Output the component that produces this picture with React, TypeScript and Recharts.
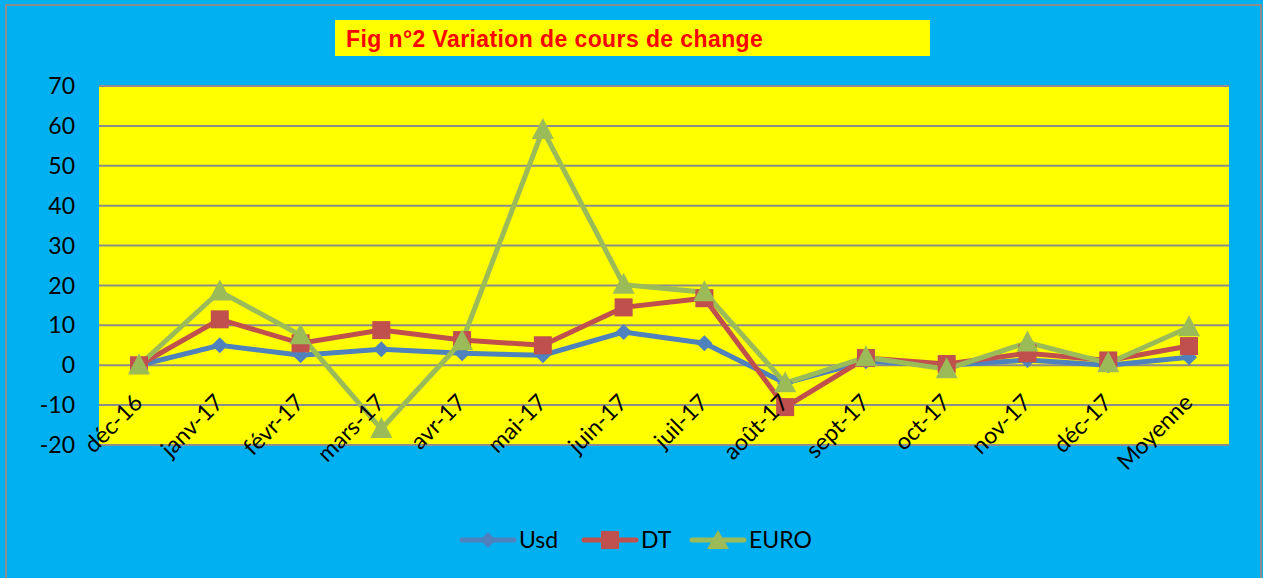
import React from 'react';
import { LineChart, Line, XAxis, YAxis, CartesianGrid, Legend } from 'recharts';

const categories = ['déc-16', 'janv-17', 'févr-17', 'mars-17', 'avr-17', 'mai-17', 'juin-17', 'juil-17', 'août-17', 'sept-17', 'oct-17', 'nov-17', 'déc-17', 'Moyenne'];
const usd = [0, 5, 2.5, 4, 3, 2.5, 8.3, 5.5, -4.5, 1, 0, 1.3, 0, 2];
const dt = [0, 11.5, 5.5, 8.8, 6.3, 5, 14.5, 16.8, -10.5, 1.8, 0.3, 3, 1.2, 4.8];
const euro = [0, 18.5, 7.5, -16, 6, 59, 20.2, 18.3, -4.5, 2, -1, 5.7, 0.5, 9.5];
const yTicks = [-20, -10, 0, 10, 20, 30, 40, 50, 60, 70];

const data = categories.map((c, i) => ({ name: c, Usd: usd[i], DT: dt[i], EURO: euro[i] }));

const FONT = 'Lato, "Open Sans", sans-serif';
const BLUE = '#4F81BD';
const RED = '#C0504D';
const GREEN = '#9BBB59';

const Diamond = (props: any) => {
  const { cx, cy, fill } = props;
  if (cx == null || cy == null) return null;
  const r = 8;
  return <polygon points={`${cx},${cy - r} ${cx + r},${cy} ${cx},${cy + r} ${cx - r},${cy}`} fill={fill} />;
};
const Square = (props: any) => {
  const { cx, cy, fill } = props;
  if (cx == null || cy == null) return null;
  const r = 9;
  return <rect x={cx - r} y={cy - r} width={2 * r} height={2 * r} fill={fill} />;
};
const Triangle = (props: any) => {
  const { cx, cy, fill } = props;
  if (cx == null || cy == null) return null;
  const r = 10;
  return <polygon points={`${cx},${cy - r - 2} ${cx + r + 1},${cy + r - 1} ${cx - r - 1},${cy + r - 1}`} fill={fill} />;
};

const XTick = (props: any) => {
  const { x, y, payload } = props;
  const ax = x + 5;
  const ay = y - 49;
  return (
    <text x={ax} y={ay} transform={`rotate(-45, ${ax}, ${ay})`} textAnchor="end" fontSize={23} fontFamily={FONT} fill="#000">
      {payload.value}
    </text>
  );
};

const LegendContent = () => {
  const items = [
    { label: 'Usd', color: BLUE, shape: 'diamond' },
    { label: 'DT', color: RED, shape: 'square' },
    { label: 'EURO', color: GREEN, shape: 'triangle' },
  ];
  const starts = [460, 582, 690];
  return (
    <svg width={1263} height={40} style={{ display: 'block' }}>
      {items.map((it, i) => {
        const x0 = starts[i];
        const cy = 20;
        const mx = x0 + 28;
        return (
          <g key={it.label}>
            <line x1={x0 + 2} y1={cy} x2={x0 + 54} y2={cy} stroke={it.color} strokeWidth={5} strokeLinecap="round" />
            {it.shape === 'diamond' && <polygon points={`${mx},${cy - 8} ${mx + 8},${cy} ${mx},${cy + 8} ${mx - 8},${cy}`} fill={it.color} />}
            {it.shape === 'square' && <rect x={mx - 9} y={cy - 9} width={18} height={18} fill={it.color} />}
            {it.shape === 'triangle' && <polygon points={`${mx},${cy - 10} ${mx + 11},${cy + 9} ${mx - 11},${cy + 9}`} fill={it.color} />}
            <text x={x0 + 59} y={cy + 8} fontSize={23} fontFamily={FONT} fill="#000">{it.label}</text>
          </g>
        );
      })}
    </svg>
  );
};

export default function App() {
  return (
    <div style={{ position: 'absolute', left: 0, top: 0, width: 1263, height: 578, background: '#00B0F0', overflow: 'hidden' }}>
      <div style={{ position: 'absolute', left: 5, top: 4, width: 1257, height: 600, border: '2px solid #8c8c8c', boxSizing: 'border-box' }} />
      <div style={{ position: 'absolute', left: 335, top: 20, width: 595, height: 36, background: '#FFFF00', boxSizing: 'border-box', paddingLeft: 11, fontFamily: 'Arial, "Liberation Sans", sans-serif', fontWeight: 'bold', fontSize: 23, letterSpacing: 0.4, color: '#FF0000', lineHeight: '38px', whiteSpace: 'nowrap' }}>
        Fig n°2 Variation de cours de change
      </div>
      <div style={{ position: 'absolute', left: 0, top: 0 }}>
        <LineChart width={1263} height={578} data={data} margin={{ top: 86, right: 34, left: 39, bottom: 63 }}>
          <CartesianGrid vertical={false} fill="#FFFF00" stroke="#8C8C8C" strokeWidth={2} fillOpacity={1} />
          <XAxis dataKey="name" axisLine={false} tickLine={false} interval={0} height={30} padding={{ left: 40, right: 40 }} tick={<XTick />} />
          <YAxis domain={[-20, 70]} ticks={yTicks} axisLine={false} tickLine={false} width={60} tick={{ fontSize: 23, fontFamily: FONT, fill: '#000' }} tickMargin={18} interval={0} />
          <Legend verticalAlign="bottom" height={40} content={<LegendContent />} wrapperStyle={{ left: 0, bottom: 18, width: 1263 }} />
          <Line type="linear" dataKey="Usd" stroke={BLUE} strokeWidth={5} dot={<Diamond fill={BLUE} />} activeDot={false} isAnimationActive={false} />
          <Line type="linear" dataKey="DT" stroke={RED} strokeWidth={5} dot={<Square fill={RED} />} activeDot={false} isAnimationActive={false} />
          <Line type="linear" dataKey="EURO" stroke={GREEN} strokeWidth={5} dot={<Triangle fill={GREEN} />} activeDot={false} isAnimationActive={false} />
        </LineChart>
      </div>
    </div>
  );
}
